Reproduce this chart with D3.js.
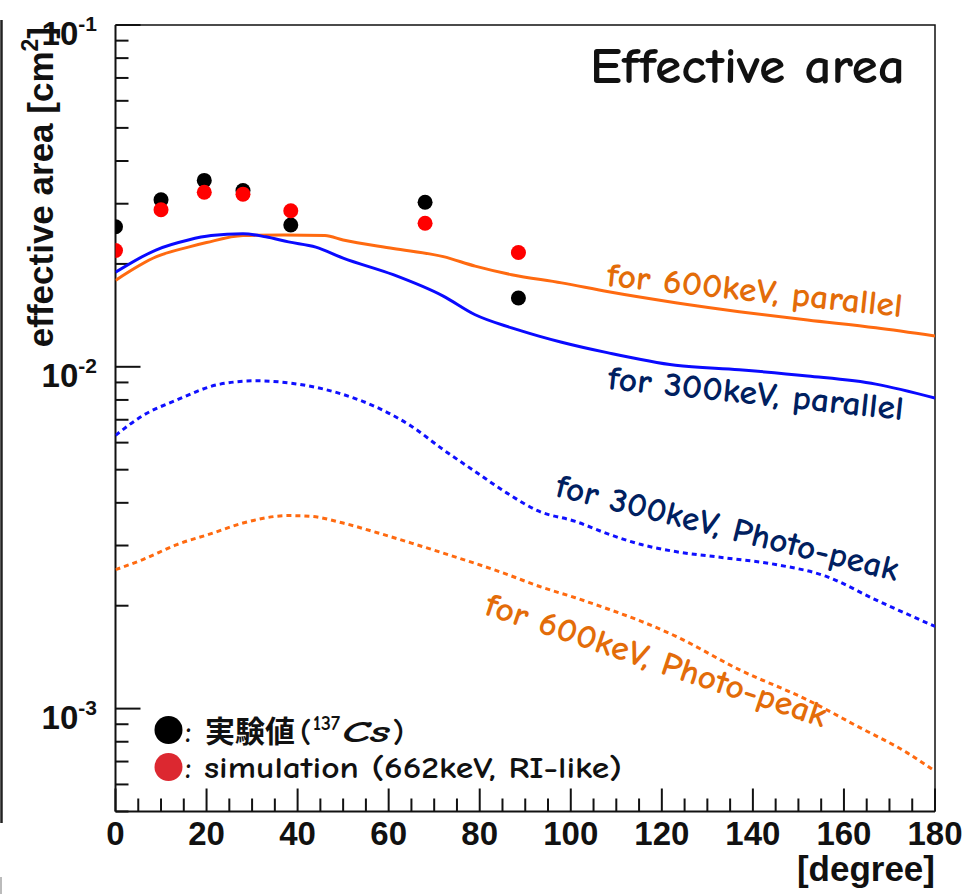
<!DOCTYPE html>
<html>
<head>
<meta charset="utf-8">
<script src="https://cdn.jsdelivr.net/npm/d3@7"></script>
<style>
  html, body { margin: 0; padding: 0; background: #fff; }
  svg { display: block; }
</style>
</head>
<body>
<svg id="chart" width="970" height="894"></svg>
<script>
// Angle in degrees, effective area in cm^2
const xTicks = [0, 20, 40, 60, 80, 100, 120, 140, 160, 180];
const yDecades = [1e-1, 1e-2, 1e-3];
const yDecadeExp = ["-1", "-2", "-3"];

// Measured points (137Cs) and simulation (662 keV, RI-like)
const pointAngles = [0, 10, 19.5, 28, 38.5, 68, 88.5];
const measured   = [0.0257, 0.0308, 0.0351, 0.0328, 0.0260, 0.0303, 0.0159];
const simulated  = [0.0219, 0.0288, 0.0324, 0.0320, 0.0286, 0.0263, 0.0216];

// 300 keV, parallel beam (full)
const par300Angles = [0, 9, 16, 21, 28, 33, 38, 44, 50, 61, 72, 79, 87, 93, 98, 108, 123, 137, 152, 167, 180];
const par300Values = [0.0189, 0.0220, 0.0235, 0.0242, 0.0245, 0.0240, 0.0232, 0.0224, 0.0208, 0.0186, 0.0161, 0.0142, 0.0130, 0.0123, 0.0118, 0.0110, 0.0101, 0.0098, 0.0094, 0.0089, 0.0081];

// 600 keV, parallel beam (full)
const par600Angles = [0, 9, 16, 20, 28, 37, 46, 50, 61, 72, 79, 87, 98, 108, 123, 137, 152, 167, 180];
const par600Values = [0.0179, 0.0210, 0.0224, 0.0231, 0.0242, 0.0243, 0.0242, 0.0235, 0.0222, 0.0210, 0.0197, 0.0186, 0.0176, 0.0166, 0.0154, 0.0145, 0.0137, 0.0130, 0.0123];

// 300 keV, photo-peak
const pp300Angles = [0, 6, 13.5, 23, 31, 40, 50, 57.5, 65, 72, 79, 86, 93, 101, 108, 115.5, 123, 134, 145, 156, 167, 180];
const pp300Values = [0.0063, 0.0072, 0.0080, 0.0089, 0.0091, 0.0089, 0.0083, 0.0076, 0.0067, 0.00572, 0.00494, 0.00427, 0.00378, 0.00353, 0.00325, 0.00302, 0.00288, 0.00276, 0.00264, 0.00244, 0.00208, 0.00174];

// 600 keV, photo-peak
const pp600Angles = [0, 6, 13.5, 21, 28, 38, 43, 50, 57.5, 65, 72, 79, 86, 93, 101, 108, 115.5, 123, 137, 152, 163, 174, 180];
const pp600Values = [0.00255, 0.00273, 0.00302, 0.00325, 0.00349, 0.00367, 0.00365, 0.00349, 0.00327, 0.00305, 0.00285, 0.00266, 0.00247, 0.00228, 0.00211, 0.00196, 0.00180, 0.00163, 0.00130, 0.00106, 0.000887, 0.000741, 0.000656];

const svg = d3.select("#chart");
const frameL = 115.5, frameR = 935, frameT = 25, frameB = 811.5;

const x = d3.scaleLinear().domain([0, 180]).range([frameL, frameR]);
const y = d3.scaleLog().domain([5e-4, 1e-1]).range([frameB, frameT]);

const sansBold = "'Liberation Sans', Arial, Helvetica, sans-serif";
const handFont = "'Comic Sans MS', 'Comic Neue', 'Noto Sans', sans-serif";

svg.append("rect").attr("width", 970).attr("height", 894).attr("fill", "#fff");

// Edge rule on the left side of the page
svg.append("line").attr("x1", 1.5).attr("x2", 1.5).attr("y1", 20).attr("y2", 823)
  .attr("stroke", "#222").attr("stroke-width", 2.5);
svg.append("line").attr("x1", 1).attr("x2", 1).attr("y1", 877).attr("y2", 894)
  .attr("stroke", "#bbb").attr("stroke-width", 2);

svg.append("defs").append("clipPath").attr("id", "plotClip")
  .append("rect").attr("x", frameL).attr("y", frameT)
  .attr("width", frameR - frameL).attr("height", frameB - frameT);

// Frame
svg.append("path")
  .attr("d", `M${frameL},${frameT}H${frameR}V${frameB}`)
  .attr("fill", "none").attr("stroke", "#111").attr("stroke-width", 1.5);

// Y axis: ticks point into the frame
const yAxis = svg.append("g").attr("transform", `translate(${frameL},0)`);
yAxis.append("line").attr("x1", 0).attr("x2", 0).attr("y1", frameT).attr("y2", frameB)
  .attr("stroke", "#111").attr("stroke-width", 2);
y.ticks().forEach(v => {
  const isMajor = Math.abs(Math.log10(v) - Math.round(Math.log10(v))) < 1e-9;
  yAxis.append("line")
    .attr("x1", 0).attr("x2", isMajor ? 25 : 13)
    .attr("y1", y(v)).attr("y2", y(v))
    .attr("stroke", "#111").attr("stroke-width", 2);
});
yDecades.forEach((v, i) => {
  const t = svg.append("text")
    .attr("x", 97).attr("y", y(v) + 20)
    .attr("text-anchor", "end")
    .attr("font-family", sansBold).attr("font-weight", "bold")
    .attr("font-size", 33).attr("fill", "#111");
  t.append("tspan").text("10");
  t.append("tspan").attr("font-size", 21).attr("dy", -14).text(yDecadeExp[i]);
});

// X axis
const xAxis = svg.append("g").attr("transform", `translate(0,${frameB})`);
xAxis.append("line").attr("x1", frameL).attr("x2", frameR).attr("y1", 0).attr("y2", 0)
  .attr("stroke", "#111").attr("stroke-width", 2);
d3.range(0, 181, 5).forEach(v => {
  const isMajor = v % 20 === 0;
  xAxis.append("line")
    .attr("x1", x(v)).attr("x2", x(v))
    .attr("y1", 0).attr("y2", isMajor ? -23 : -13)
    .attr("stroke", "#111").attr("stroke-width", 2);
});
xTicks.forEach(v => {
  svg.append("text")
    .attr("x", x(v)).attr("y", 845)
    .attr("text-anchor", "middle")
    .attr("font-family", sansBold).attr("font-weight", "bold")
    .attr("font-size", 33).attr("fill", "#111")
    .text(v);
});

// Axis titles
svg.append("text")
  .attr("x", frameR).attr("y", 881)
  .attr("text-anchor", "end")
  .attr("font-family", sansBold).attr("font-weight", "bold")
  .attr("font-size", 35).attr("fill", "#111")
  .text("[degree]");

const yTitle = svg.append("text")
  .attr("transform", "translate(53,27) rotate(-90)")
  .attr("text-anchor", "end")
  .attr("font-family", sansBold).attr("font-weight", "bold")
  .attr("font-size", 35).attr("fill", "#111");
yTitle.append("tspan").text("effective area [cm");
yTitle.append("tspan").attr("font-size", 23).attr("dy", -15).text("2");
yTitle.append("tspan").attr("dy", 15).text("]");

// Curves
const plot = svg.append("g").attr("clip-path", "url(#plotClip)");
const line = d3.line().x(d => x(d[0])).y(d => y(d[1])).curve(d3.curveMonotoneX);

const curves = [
  { a: pp600Angles, v: pp600Values, color: "#ff6a10", dash: "5,4" },
  { a: pp300Angles, v: pp300Values, color: "#1010ff", dash: "5,4" },
  { a: par600Angles, v: par600Values, color: "#ff6a10", dash: null },
  { a: par300Angles, v: par300Values, color: "#0a0aff", dash: null }
];
curves.forEach(c => {
  plot.append("path")
    .attr("d", line(d3.zip(c.a, c.v)))
    .attr("fill", "none")
    .attr("stroke", c.color)
    .attr("stroke-width", 3)
    .attr("stroke-dasharray", c.dash);
});

// Data points
plot.selectAll("circle.meas").data(d3.zip(pointAngles, measured)).join("circle")
  .attr("class", "meas")
  .attr("cx", d => x(d[0])).attr("cy", d => y(d[1])).attr("r", 7.5)
  .attr("fill", "#000");
plot.selectAll("circle.sim").data(d3.zip(pointAngles, simulated)).join("circle")
  .attr("class", "sim")
  .attr("cx", d => x(d[0])).attr("cy", d => y(d[1])).attr("r", 7.5)
  .attr("fill", "#ff0000");

// Curve labels
const labels = [
  { text: "for 600keV, parallel", x: 606, y: 286, angle: 6, len: 297, color: "#e36c09" },
  { text: "for 300keV, parallel", x: 607, y: 389, angle: 6, len: 297, color: "#002060" },
  { text: "for 300keV, Photo-peak", x: 554, y: 496, angle: 14, len: 352, color: "#002060" },
  { text: "for 600keV, Photo-peak", x: 483, y: 614, angle: 18.5, len: 358, color: "#e36c09" }
];
labels.forEach(l => {
  svg.append("text")
    .attr("transform", `translate(${l.x},${l.y}) rotate(${l.angle})`)
    .attr("font-family", handFont).attr("font-size", 34).attr("font-weight", "bold")
    .attr("fill", l.color)
    .attr("textLength", l.len).attr("lengthAdjust", "spacingAndGlyphs")
    .text(l.text);
});

// Title
svg.append("text")
  .attr("x", 590).attr("y", 83)
  .attr("font-family", handFont).attr("font-size", 50).attr("font-weight", "bold")
  .attr("fill", "#111")
  .attr("textLength", 315).attr("lengthAdjust", "spacingAndGlyphs")
  .text("Effective area");

// Legend
svg.append("circle").attr("cx", 168.5).attr("cy", 730).attr("r", 14).attr("fill", "#000");
svg.append("circle").attr("cx", 168.5).attr("cy", 767).attr("r", 14).attr("fill", "#dc2830");

const leg1 = svg.append("text").attr("y", 742)
  .attr("font-family", handFont).attr("font-size", 31).attr("font-weight", "bold").attr("fill", "#111");
leg1.append("tspan").attr("x", 185).text(":");
leg1.append("tspan").attr("x", 205)
  .attr("font-family", "'Noto Sans CJK JP', 'Noto Sans CJK SC', sans-serif")
  .attr("font-size", 30).text("実験値");
leg1.append("tspan").attr("x", 300).text("(");
leg1.append("tspan").attr("x", 313).attr("font-size", 20).attr("dy", -12)
  .attr("textLength", 27).attr("lengthAdjust", "spacingAndGlyphs").text("137");
leg1.append("tspan").attr("x", 342).attr("dy", 12).attr("font-style", "italic")
  .attr("textLength", 48).attr("lengthAdjust", "spacingAndGlyphs").text("Cs");
leg1.append("tspan").attr("x", 393).text(")");

const leg2 = svg.append("text").attr("y", 778)
  .attr("font-family", handFont).attr("font-size", 31).attr("font-weight", "bold").attr("fill", "#111");
leg2.append("tspan").attr("x", 185).text(":");
leg2.append("tspan").attr("x", 204)
  .attr("textLength", 418).attr("lengthAdjust", "spacingAndGlyphs")
  .text("simulation (662keV, RI-like)");
</script>
</body>
</html>
